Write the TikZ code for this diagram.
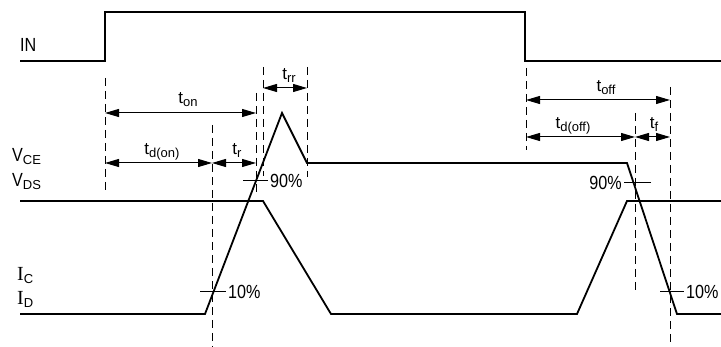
\documentclass[tikz,border=0pt]{standalone}
\usepackage{fontspec}
\setmainfont{Liberation Sans}[FakeStretch=0.85]
\newfontfamily\widefont{Liberation Sans}
\newfontfamily\serifI{Liberation Serif}
\usetikzlibrary{arrows.meta}
\newcommand{\lowtxt}[1]{\raisebox{-3pt}{\widefont\fontsize{13}{13}\selectfont #1}}
\tikzset{
    wave/.style={line width=1.8pt},
    guide/.style={line width=1pt, dash pattern=on 8pt off 5pt},
    dimline/.style={line width=1pt, {Triangle[length=14pt,width=8pt]}-{Triangle[length=14pt,width=8pt]}},
    tickmark/.style={line width=1pt},
    lbl/.style={inner sep=0pt, font=\fontsize{19}{19}\selectfont},
    tlbl/.style={inner sep=0pt, anchor=base, font=\widefont\fontsize{17}{17}\selectfont},
    pct/.style={inner sep=2pt, font=\fontsize{19}{19}\selectfont}
}

\begin{document}
\begin{tikzpicture}[x=1pt,y=-1pt]
        \useasboundingbox (0,0) rectangle (721,347);
        \draw [wave] (20,61) -- (105,61) -- (105,12) -- (525,12) -- (525,61) -- (721,61);
        \draw [wave] (20,201) -- (263,201) -- (331,314) -- (577,314) -- (627,201) -- (721,201);
        \draw [wave] (20,314) -- (205,314) -- (282,113) -- (307,163) -- (627,163) -- (677,314) -- (721,314);
        \foreach \x/\ya/\yb in {105/78/190, 212/125/347, 256/93/195, 263/67/176, 307/67/177, 526/68/150, 635/113/290, 670/87/345}{
            \draw [guide] (\x,\ya) -- (\x,\yb);
        }
        \foreach \name/\xa/\xb/\y in {ton/105/256/113, tdon/105/212/163, tr/212/256/163, trr/263/307/88, toff/526/670/100, tdoff/526/635/137, tf/635/670/137}{
            \coordinate (\name-l) at (\xa,\y);
            \coordinate (\name-r) at (\xb,\y);
            \draw [dimline] (\name-l) -- (\name-r);
        }
        \node [tlbl] (lon) at (188,104) {t\lowtxt{on}};
        \node [tlbl] (ldon) at (162,155) {t\lowtxt{d(on)}};
        \node [tlbl] (lr) at (237,155) {t\lowtxt{r}};
        \node [tlbl] (lrr) at (289,80) {t\lowtxt{rr}};
        \node [tlbl] (loff) at (606,92) {t\lowtxt{off}};
        \node [tlbl] (ldoff) at (573,129) {t\lowtxt{d(off)}};
        \node [tlbl] (lf) at (654,129) {t\lowtxt{f}};
        \node [lbl, anchor=base west] (sin) at (20,52) {IN};
        \node [lbl, anchor=base west] (svce) at (12,162) {V\lowtxt{CE}};
        \node [lbl, anchor=base west] (svds) at (12,187) {V\lowtxt{DS}};
        \node [lbl, anchor=base west] (sic) at (17,281) {{\serifI\fontsize{20}{20}\selectfont I}\lowtxt{C}};
        \node [lbl, anchor=base west] (sid) at (17,305) {{\serifI\fontsize{20}{20}\selectfont I}\lowtxt{D}};
        \node [pct, anchor=west] (pa) at (268,181) {90\%};
        \node [pct, anchor=west] (pb) at (226,292) {10\%};
        \node [pct, anchor=east] (pc) at (624,183) {90\%};
        \node [pct, anchor=west] (pd) at (684,292) {10\%};
        \coordinate (pa-s) at (243,181);
        \coordinate (pb-s) at (200,292);
        \coordinate (pc-s) at (651,183);
        \coordinate (pd-s) at (660,292);
        \draw [tickmark] (pa-s) -- (pa.west);
        \draw [tickmark] (pb-s) -- (pb.west);
        \draw [tickmark] (pc-s) -- (pc.east);
        \draw [tickmark] (pd-s) -- (pd.west);
\end{tikzpicture}
\end{document}
